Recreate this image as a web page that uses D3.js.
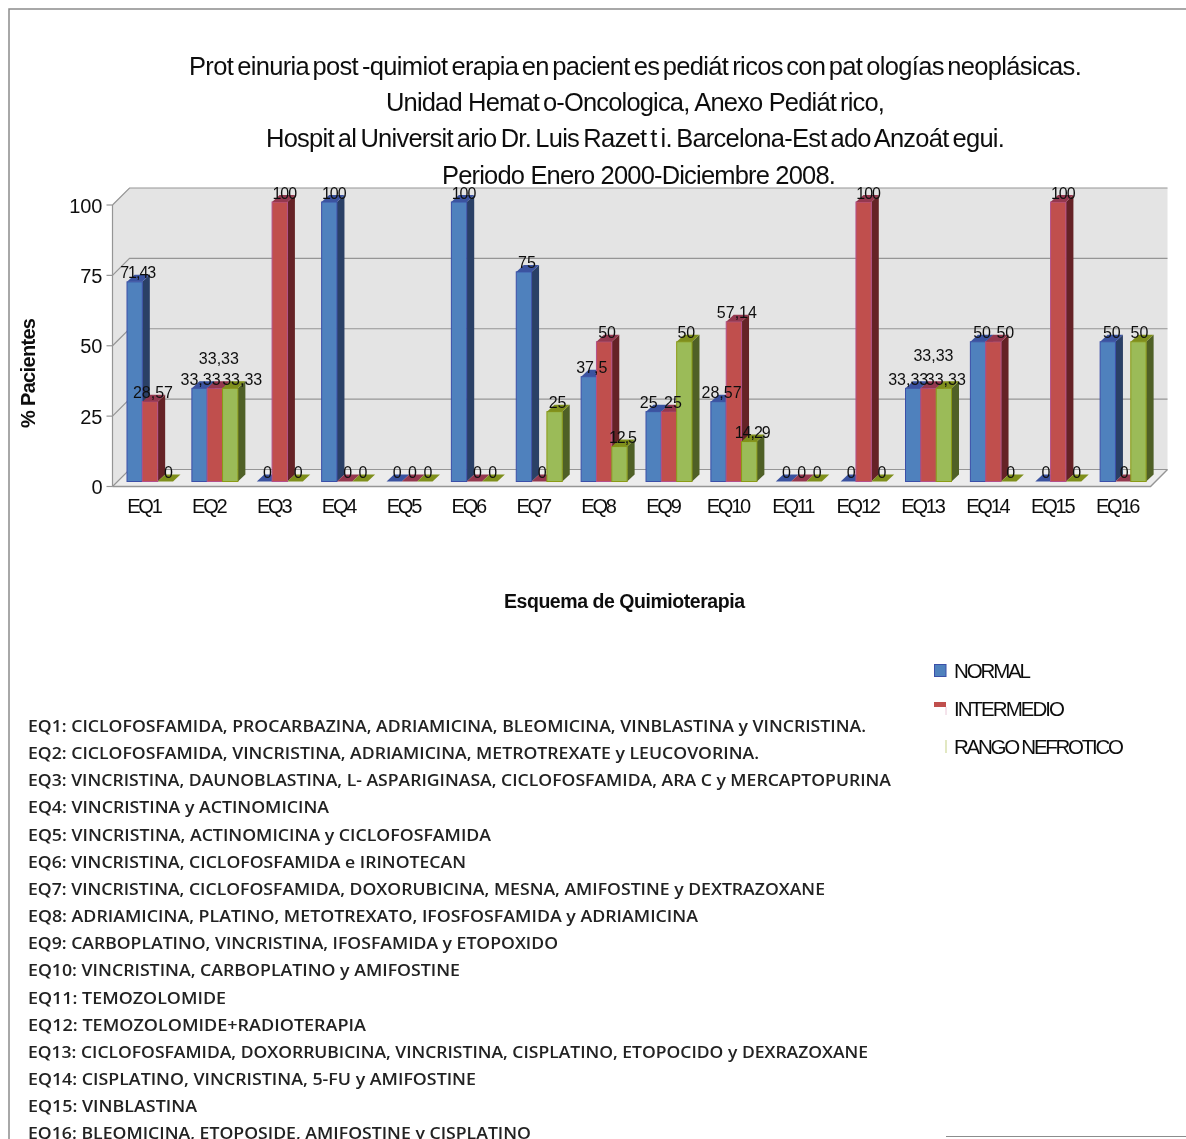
<!DOCTYPE html>
<html><head><meta charset="utf-8">
<style>html,body{margin:0;padding:0;background:#fff;overflow:hidden}svg{display:block}text{font-family:"Liberation Sans",Arial,sans-serif;fill:#111}</style>
<script src="https://cdn.jsdelivr.net/npm/d3@7/dist/d3.min.js"></script>
</head><body><svg id="c" width="1186" height="1139"></svg>
<script>
const categories=["EQ1","EQ2","EQ3","EQ4","EQ5","EQ6","EQ7","EQ8","EQ9","EQ10","EQ11","EQ12","EQ13","EQ14","EQ15","EQ16"];
const seriesNames=["NORMAL","INTERMEDIO","RANGO NEFROTICO"];
const normal=[71.43,33.33,0,100,0,100,75,37.5,25,28.57,0,0,33.33,50,0,50];
const intermedio=[28.57,33.33,100,0,0,0,0,50,25,57.14,0,100,33.33,50,100,0];
const nefrotico=[0,33.33,0,0,0,0,25,12.5,50,14.29,0,0,33.33,0,0,50];
const yTicks=[0,25,50,75,100];
const titleLines=["Proteinuria post-quimioterapia en pacientes pediátricos con patologías neoplásicas.","Unidad Hemato-Oncologica, Anexo Pediátrico,","Hospital Universitario Dr. Luis Razetti. Barcelona-Estado Anzoátegui.","Periodo Enero 2000-Diciembre 2008."];
const chemoLines=["EQ1: CICLOFOSFAMIDA, PROCARBAZINA, ADRIAMICINA, BLEOMICINA, VINBLASTINA y VINCRISTINA.","EQ2: CICLOFOSFAMIDA, VINCRISTINA, ADRIAMICINA, METROTREXATE y LEUCOVORINA.","EQ3: VINCRISTINA, DAUNOBLASTINA, L- ASPARIGINASA, CICLOFOSFAMIDA, ARA C y MERCAPTOPURINA","EQ4: VINCRISTINA y ACTINOMICINA","EQ5: VINCRISTINA, ACTINOMICINA y CICLOFOSFAMIDA","EQ6: VINCRISTINA, CICLOFOSFAMIDA e IRINOTECAN","EQ7: VINCRISTINA, CICLOFOSFAMIDA, DOXORUBICINA, MESNA, AMIFOSTINE y DEXTRAZOXANE","EQ8: ADRIAMICINA, PLATINO, METOTREXATO, IFOSFOSFAMIDA y ADRIAMICINA","EQ9: CARBOPLATINO, VINCRISTINA, IFOSFAMIDA y ETOPOXIDO","EQ10: VINCRISTINA, CARBOPLATINO y AMIFOSTINE","EQ11: TEMOZOLOMIDE","EQ12: TEMOZOLOMIDE+RADIOTERAPIA","EQ13: CICLOFOSFAMIDA, DOXORRUBICINA, VINCRISTINA, CISPLATINO, ETOPOCIDO y DEXRAZOXANE","EQ14: CISPLATINO, VINCRISTINA, 5-FU y AMIFOSTINE","EQ15: VINBLASTINA","EQ16: BLEOMICINA, ETOPOSIDE, AMIFOSTINE y CISPLATINO"];

const svg=d3.select("#c");
const defs=svg.append("defs");
defs.append("filter").attr("id","soft").append("feGaussianBlur").attr("stdDeviation",.7);
defs.append("filter").attr("id","soft2").append("feGaussianBlur").attr("stdDeviation",.3);
const fmt=v=>String(v).replace(".",",");
const X0=112.5,X1=1150.5,DX=17,DY=17;
const x=d3.scaleBand().domain(categories).range([X0,X1]);
const yAxis=d3.scaleLinear().domain([0,100]).range([486.5,205]);
const yBar=d3.scaleLinear().domain([0,100]).range([481.5,202]);
const inner=d3.scaleBand().domain(seriesNames).range([14.5,60.5]);
const values=[normal,intermedio,nefrotico];
const colors=[
 {front:"#4f81bd",stroke:"#3b4fa8",side:"#2c3f66",top:"#3a53a0"},
 {front:"#c0504d",stroke:"#b4508a",side:"#652426",top:"#94384f"},
 {front:"#9bbb59",stroke:"#8b9a14",side:"#4f6028",top:"#7f8f1a"}];
const depthX=7.5,depthY=7;
const GRID="#959595";

const root=svg.append("g").attr("filter","url(#soft2)");

// frame
root.append("path").attr("d","M9,1139V9H1186").attr("fill","none").attr("stroke","#8c8c8c").attr("stroke-width",1.5);
root.append("path").attr("d","M946,1136.5H1186").attr("stroke","#8c8c8c").attr("stroke-width",1.2);

// title, with the wide gap after each "t" seen in the reference
const tw=[[189,1081],[386,884],[266,1004],[442,835]];
const tGap=4;
titleLines.forEach((line,i)=>{
 const t=root.append("text").attr("x",tw[i][0]).attr("y",74.5+i*36.4).attr("font-size",25.5);
 t.style("word-spacing",(i===0?-3:i===2?-2:0)+"px");
 t.text(line);
 const natural=t.node().getComputedTextLength();
 t.text(null);
 const parts=line.split(/(?<=t)/);
 const gaps=parts.length-1;
 const ls=(tw[i][1]-tw[i][0]-natural-gaps*tGap)/line.length;
 t.attr("letter-spacing",ls);
 parts.forEach((p,j)=>t.append("tspan").attr("dx",j?tGap:0).text(p));
});

// walls
const P=(pts)=>"M"+pts.map(p=>p.join(",")).join("L")+"Z";
const y0=yAxis(0),y100=yAxis(100);
root.append("path").attr("d",P([[X0,y0],[X0,y100],[X0+DX,y100-DY],[X1+DX,y100-DY],[X1+DX,y0-DY],[X0+DX,y0-DY]])).attr("fill","#e4e4e4");
root.append("path").attr("d",P([[X0,y0],[X0+DX,y0-DY],[X1+DX,y0-DY],[X1,y0]])).attr("fill","#ececec");
yTicks.forEach(t=>{
 const y=yAxis(t);
 root.append("path").attr("d",`M${X0},${y}L${X0+DX},${y-DY}H${X1+DX}`).attr("fill","none").attr("stroke",GRID).attr("stroke-width",1.2);
 root.append("path").attr("d",`M${X0-6},${y}H${X0}`).attr("stroke",GRID).attr("stroke-width",1.2);
});
root.append("path").attr("d",`M${X0},${y0}V${y100}`).attr("stroke",GRID).attr("stroke-width",1.2);
root.append("path").attr("d",`M${X0},${y0}H${X1}L${X1+DX},${y0-DY}`).attr("fill","none").attr("stroke",GRID).attr("stroke-width",1.4);

// ticks
root.append("g").selectAll("text").data(yTicks).join("text")
 .attr("x",102.5).attr("y",d=>yAxis(d)+7.5).attr("text-anchor","end").attr("font-size",20).text(d=>d);
root.append("g").selectAll("text").data(categories).join("text")
 .attr("x",d=>x(d)+x.bandwidth()/2-1).attr("y",513).attr("text-anchor","middle").attr("font-size",20).attr("letter-spacing",-2.2).text(d=>d);

// axis titles
root.append("text").attr("transform","translate(35,373) rotate(-90)").attr("text-anchor","middle").attr("font-size",20).attr("font-weight","bold").attr("textLength",110).attr("lengthAdjust","spacing").text("% Pacientes");
root.append("text").attr("x",504).attr("y",608).attr("font-size",19.5).attr("font-weight","bold").attr("textLength",241).attr("lengthAdjust","spacing").text("Esquema de Quimioterapia");

// bars
categories.forEach((c,ci)=>{
 const g=root.append("g");
 seriesNames.forEach((s,si)=>{
  const v=values[si][ci],l=x(c)+inner(s),w=inner.bandwidth(),t=yBar(v),b=yBar(0),k=colors[si];
  if(v>0){
   g.append("path").attr("d",P([[l+w,t],[l+w+depthX,t-depthY],[l+w+depthX,b-depthY],[l+w,b]])).attr("fill",k.side);
   g.append("rect").attr("x",l).attr("y",t).attr("width",w).attr("height",b-t).attr("fill",k.front).attr("stroke",k.stroke).attr("stroke-width",1);
  }
  g.append("path").attr("d",P([[l,t],[l+depthX,t-depthY],[l+w+depthX,t-depthY],[l+w,t]])).attr("fill",k.top);
 });
});

// data labels: default sits a little right of the bar; the renderer moved colliding ones
const labelShift={EQ2:[[1,0],[4,-21],[12,0]],EQ13:[[-5,0],[5,-24],[2,0]],EQ14:[[4,0],[12,0],[2,0]],EQ9:[[-5,0],[4,0],[2,0]],EQ16:[[4,0],[1,0],[1,0]]};
const tightLabels=new Set([71.43,100,14.29,12.5]);
categories.forEach((c,ci)=>{
 seriesNames.forEach((s,si)=>{
  const v=values[si][ci];
  const [nx,ny]=(labelShift[c]||[])[si]||[v===100?4.5:3,0];
  root.append("text").attr("x",x(c)+inner(s)+inner.bandwidth()/2+nx).attr("y",yBar(v)-3.5+ny)
   .attr("text-anchor","middle").attr("font-size",16).attr("letter-spacing",tightLabels.has(v)?-1:0).text(fmt(v));
 });
});

// legend
const lg=[[954,1031],[954,1065],[954,1124]];
root.append("rect").attr("x",934.5).attr("y",664.5).attr("width",11.5).attr("height",12).attr("fill","#4f81bd").attr("stroke","#3b4fa8");
root.append("rect").attr("x",934).attr("y",702).attr("width",12).attr("height",5).attr("fill","#c0504d");
root.append("path").attr("d","M946,707V715").attr("stroke","#eac8d8");
root.append("path").attr("d","M946,740V753").attr("stroke","#cfd99a").attr("stroke-width",1.2);
root.append("g").selectAll("text").data(seriesNames).join("text")
 .attr("x",(d,i)=>lg[i][0]).attr("y",(d,i)=>677.5+i*38).attr("font-size",20.5)
 .attr("textLength",(d,i)=>lg[i][1]-lg[i][0]).attr("lengthAdjust","spacing").text(d=>d);

// regimen list
const ends=[866,759,891,329,491,466,825,698,558,460,226,366,868,476,197,531];
svg.append("g").attr("filter","url(#soft)").selectAll("text").data(chemoLines).join("text")
 .attr("x",28).attr("y",(d,i)=>732+i*27.15).attr("font-size",16.5).attr("font-weight",600)
 .style("font-family","'Open Sans',sans-serif").style("fill","#222")
 .attr("textLength",(d,i)=>ends[i]-28).attr("lengthAdjust","spacingAndGlyphs").text(d=>d);
</script></body></html>
